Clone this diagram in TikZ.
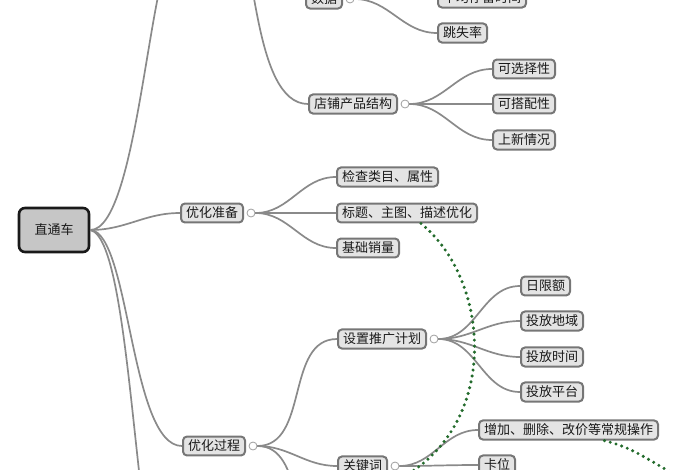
\documentclass[tikz,border=0pt]{standalone}
\usepackage{fontspec}
\newfontfamily\cjk{Noto Sans CJK SC}
\definecolor{boxfill}{HTML}{E4E4E4}
\definecolor{boxline}{HTML}{767676}
\definecolor{rootfill}{HTML}{C6C6C6}
\definecolor{linkgray}{HTML}{8A8A8A}
\definecolor{relgreen}{HTML}{236B2C}

\begin{document}
\begin{tikzpicture}[x=1pt,y=-1pt,
  topic/.style={draw=boxline,line width=2pt,fill=boxfill,rounded corners=4pt,
    inner xsep=5pt,inner ysep=3.5pt,font=\cjk\fontsize{13}{15}\selectfont,text=black!90,anchor=west},
  central/.style={draw=black!90,line width=2.6pt,fill=rootfill,rounded corners=6pt,
    minimum width=70pt,minimum height=44pt,font=\cjk\fontsize{13}{15}\selectfont,text=black!90},
  fold/.style={circle,draw=boxline!70,fill=white,line width=0.8pt,minimum size=8pt,inner sep=0pt},
  branch/.style={draw=linkgray,line width=1.7pt},
  relation/.style={draw=relgreen,line width=3.4pt,dash pattern=on 0pt off 6pt,line cap=round}]
\useasboundingbox (0,0) rectangle (700,470);
\clip (0,0) rectangle (700,470);
% topics
\node[central] (root) at (54,230) {直通车};
\node[topic] (data) at (305,-1) {数据};
\node[topic] (staytime) at (437,-2) {平均停留时间};
\node[topic] (bounce) at (437,33) {跳失率};
\node[topic] (struct) at (308,104) {店铺产品结构};
\node[topic] (choice) at (492,69) {可选择性};
\node[topic] (match) at (492,104) {可搭配性};
\node[topic] (newin) at (492,140) {上新情况};
\node[topic] (prep) at (180,213) {优化准备};
\node[topic] (check) at (336,177) {检查类目、属性};
\node[topic] (title) at (336,213) {标题、主图、描述优化};
\node[topic] (sales) at (336,248) {基础销量};
\node[topic] (process) at (182,446) {优化过程};
\node[topic] (plan) at (337,339) {设置推广计划};
\node[topic] (budget) at (520,286) {日限额};
\node[topic] (region) at (520,321) {投放地域};
\node[topic] (hours) at (520,357) {投放时间};
\node[topic] (platform) at (520,392) {投放平台};
\node[topic] (keyword) at (337,466) {关键词};
\node[topic] (ops) at (478,430) {增加、删除、改价等常规操作};
\node[topic] (slot) at (478,465) {卡位};
\foreach \p in {data,struct,prep,plan,process,keyword}
  \node[fold] (\p-fold) at ([xshift=7pt]\p.east) {};
% ends outside the frame
\coordinate (upper-in) at (180,-60);
\coordinate (upper-out) at (236,-60);
\coordinate (lower) at (185,650);
\coordinate (proc-more) at (335,545);
\coordinate (kw-rel) at (405,476);
\coordinate (ops-rel) at (690,484);
% branches
\draw[branch] (root.east) .. controls (140,230) and (150,-60) .. (upper-in);
\draw[branch] (root.east) to[out=0,in=180] (prep.west);
\draw[branch] (root.east) .. controls (130,232) and (130,446) .. (process.west);
\draw[branch] (root.east) .. controls (138,240) and (133,650) .. (lower);
\draw[branch] (upper-out) .. controls (256,-60) and (252,104) .. (struct.west);
\draw[branch] (upper-out) to[out=0,in=180] (data.west);
\foreach \c in {staytime,bounce} \draw[branch] (data-fold.east) to[out=0,in=180] (\c.west);
\foreach \c in {choice,match,newin} \draw[branch] (struct-fold.east) to[out=0,in=180] (\c.west);
\foreach \c in {check,title,sales} \draw[branch] (prep-fold.east) to[out=0,in=180] (\c.west);
\foreach \c in {plan,keyword} \draw[branch] (process-fold.east) to[out=0,in=180] (\c.west);
\draw[branch] (process-fold.east) to[out=0,in=180] (proc-more);
\foreach \c in {budget,region,hours,platform} \draw[branch] (plan-fold.east) to[out=0,in=180] (\c.west);
\foreach \c in {ops,slot} \draw[branch] (keyword-fold.east) to[out=0,in=180] (\c.west);
% relations
\draw[relation] ([xshift=14pt]title.south) .. controls (490,280) and (500,420) .. (kw-rel);
\draw[relation] ([xshift=36pt]ops.south) .. controls (630,448) .. (ops-rel);
\end{tikzpicture}
\end{document}
